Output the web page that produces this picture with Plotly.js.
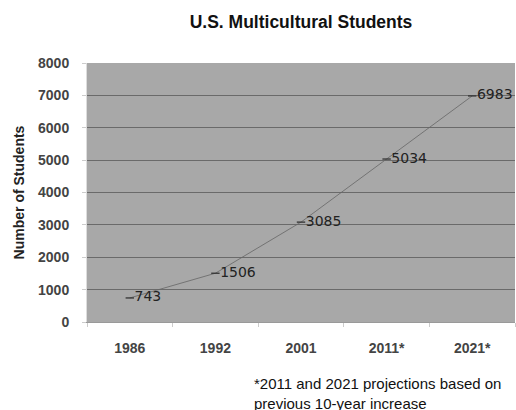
<!DOCTYPE html>
<html><head><meta charset="utf-8">
<script src="https://cdn.plot.ly/plotly-3.0.1.min.js"></script>
<style>html,body{margin:0;padding:0;background:#fff}</style>
</head><body>
<div id="chart" style="width:516px;height:410px"></div>
<script>
const years = ["1986", "1992", "2001", "2011*", "2021*"];
const students = [743, 1506, 3085, 5034, 6983];
const yTicks = [0, 1000, 2000, 3000, 4000, 5000, 6000, 7000, 8000];
const titleText = "U.S. Multicultural Students";
const yTitle = "Number of Students";
const footnote = "*2011 and 2021 projections based on<br>previous 10-year increase";

const trace = {
  x: years, y: students, type: "scatter", mode: "lines+markers+text",
  line: {color: "#666", width: 0.8},
  marker: {symbol: "line-ew", size: 6, line: {color: "#333", width: 1.3}, color: "#333"},
  text: students.map(String), textposition: "middle right",
  textfont: {family: "DejaVu Sans", size: 14, color: "#222"},
  cliponaxis: false, hoverinfo: "skip"
};
const tickFont = {family: "Liberation Sans, Arial", size: 14, color: "#444", weight: "bold"};
const layout = {
  width: 516, height: 410,
  margin: {l: 87, r: 1, t: 63, b: 88},
  paper_bgcolor: "#fff", plot_bgcolor: "#a8a8a8",
  showlegend: false,
  title: {text: titleText, x: 0.5, xref: "paper", y: 1 - 22/410, yref: "container", yanchor: "middle",
          font: {family: "Liberation Sans, Arial", size: 17.5, color: "#111", weight: "bold"}},
  xaxis: {type: "category", range: [-0.5, 4.5], tickson: "boundaries", ticks: "outside", ticklen: 4,
          tickcolor: "#ccc", showline: true, linecolor: "#999", linewidth: 1, showgrid: false, zeroline: false,
          ticklabelstandoff: 13, tickfont: tickFont, fixedrange: true},
  yaxis: {range: [0, 8000], tickvals: yTicks, ticktext: yTicks.map(String), showgrid: true, gridcolor: "#6a6a6a",
          gridwidth: 1, zeroline: false, showline: true, linecolor: "#ddd", ticks: "outside", ticklen: 4, tickcolor: "#ccc",
          ticklabelstandoff: 10, tickfont: tickFont,
          title: {text: yTitle, standoff: 10, font: {family: "Liberation Sans, Arial", size: 14, color: "#222", weight: "bold"}},
          fixedrange: true},
  annotations: [{text: footnote, xref: "paper", yref: "paper", x: (252-87)/428, y: (322-373)/259, xanchor: "left", yanchor: "top",
                 align: "left", showarrow: false,
                 font: {family: "Liberation Sans, Arial", size: 15, color: "#111"}}]
};
Plotly.newPlot("chart", [trace], layout, {displayModeBar: false, staticPlot: true});
</script>
</body></html>
